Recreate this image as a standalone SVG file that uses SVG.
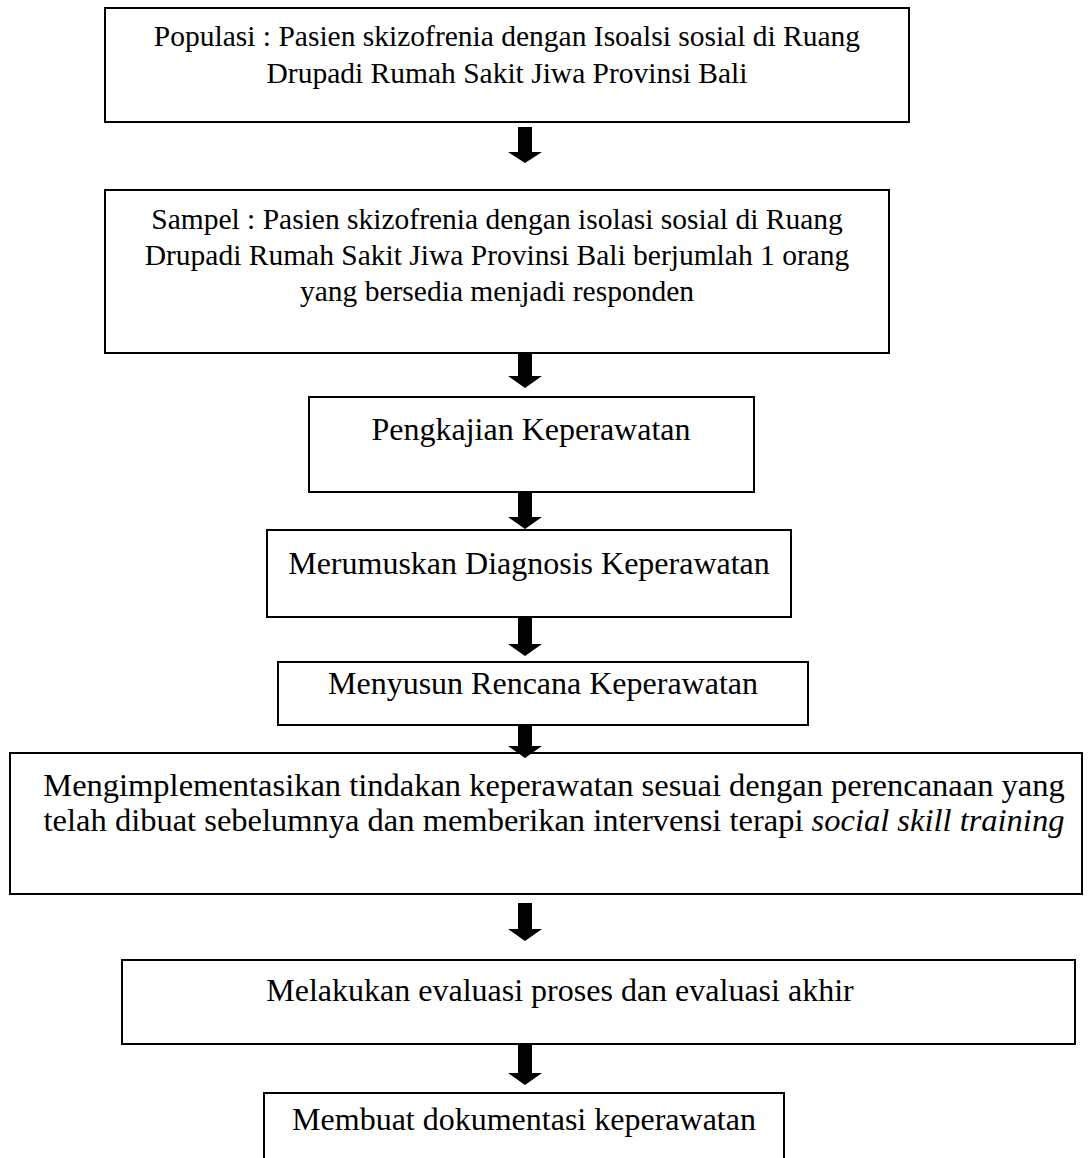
<svg xmlns="http://www.w3.org/2000/svg" width="1088" height="1158" viewBox="0 0 1088 1158">
<defs>
<style>
.box{fill:#fff;stroke:#000;stroke-width:2}
.t{font-family:"Liberation Serif","Times New Roman",serif;fill:#000;text-anchor:middle}
.arr{fill:#000}
</style>
</defs>
<rect width="1088" height="1158" fill="#fff"/>
<g id="connectors">
<polygon class="arr" points="518,127 532,127 532,152 542,152 525,163 508,152 518,152"/>
<polygon class="arr" points="518,353 532,353 532,376 542,376 525,388 508,376 518,376"/>
<polygon class="arr" points="518,492 532,492 532,517 542,517 525,529 508,517 518,517"/>
<polygon class="arr" points="518,617 532,617 532,644 542,644 525,656 508,644 518,644"/>
<polygon class="arr" points="518,903 532,903 532,929 542,929 525,941 508,929 518,929"/>
<polygon class="arr" points="518,1043 532,1043 532,1073 542,1073 525,1085 508,1073 518,1073"/>
</g>
<g id="n1">
<rect class="box" x="105" y="8" width="804" height="114"/>
<text class="t" font-size="29.5" x="507" y="46">Populasi : Pasien skizofrenia dengan Isoalsi sosial di Ruang</text>
<text class="t" font-size="29.5" x="507" y="83">Drupadi Rumah Sakit Jiwa Provinsi Bali</text>
</g>
<g id="n2">
<rect class="box" x="105" y="190" width="784" height="163"/>
<text class="t" font-size="29.5" x="497" y="229">Sampel : Pasien skizofrenia dengan isolasi sosial di Ruang</text>
<text class="t" font-size="29.5" x="497" y="265">Drupadi Rumah Sakit Jiwa Provinsi Bali berjumlah 1 orang</text>
<text class="t" font-size="29.5" x="497" y="301">yang bersedia menjadi responden</text>
</g>
<g id="n3">
<rect class="box" x="309" y="397" width="445" height="95"/>
<text class="t" font-size="32" x="531" y="440">Pengkajian Keperawatan</text>
</g>
<g id="n4">
<rect class="box" x="267" y="530" width="524" height="87"/>
<text class="t" font-size="32" x="529" y="574">Merumuskan Diagnosis Keperawatan</text>
</g>
<g id="n5">
<rect class="box" x="278" y="662" width="530" height="63"/>
<text class="t" font-size="32" x="543" y="694">Menyusun Rencana Keperawatan</text>
</g>
<g id="n6">
<rect class="box" x="10" y="753" width="1072" height="141"/>
<text class="t" font-size="32.5" x="554" y="796">Mengimplementasikan tindakan keperawatan sesuai dengan perencanaan yang</text>
<text class="t" font-size="32.5" x="554" y="831">telah dibuat sebelumnya dan memberikan intervensi terapi <tspan font-style="italic">social skill training</tspan></text>
</g>
<g id="conn5">
<polygon class="arr" points="518,725 532,725 532,746 542,746 525,758 508,746 518,746"/>
</g>
<g id="n7">
<rect class="box" x="122" y="960" width="953" height="84"/>
<text class="t" font-size="32" x="560" y="1001">Melakukan evaluasi proses dan evaluasi akhir</text>
</g>
<g id="n8">
<rect class="box" x="264" y="1093" width="520" height="72"/>
<text class="t" font-size="32" x="524" y="1130">Membuat dokumentasi keperawatan</text>
</g>
</svg>
